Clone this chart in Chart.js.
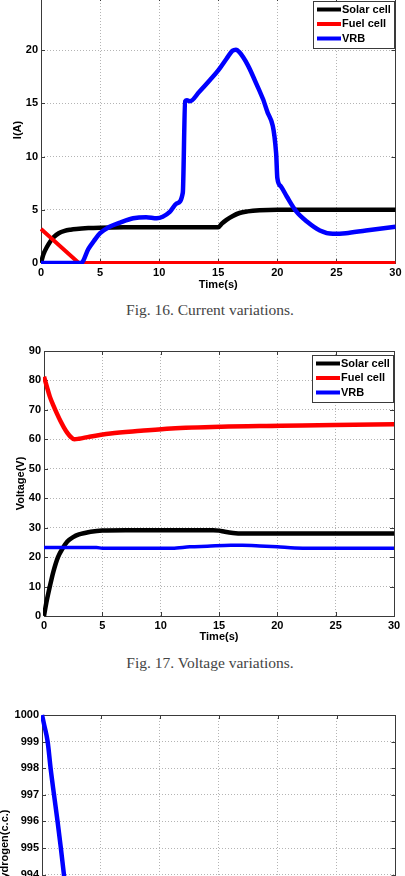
<!DOCTYPE html>
<html>
<head>
<meta charset="utf-8">
<script src="https://cdn.jsdelivr.net/npm/chart.js@4.4.0/dist/chart.umd.min.js"></script>
<style>
  html, body { margin: 0; padding: 0; background: #fff; }
  body { width: 405px; height: 876px; overflow: hidden; position: relative; }
  .graphe { position: absolute; left: 0; width: 405px; }
  .legende { position: absolute; left: 0; width: 420px; text-align: center; line-height: 18px;
             font-family: "Liberation Serif", "Times New Roman", serif; font-size: 15.5px; color: #444; }
</style>
</head>
<body>
<div class="graphe" style="top:-20px;height:315px"><canvas id="courantChart"></canvas></div>
<div class="legende" style="top:301px">Fig. 16. Current variations.</div>
<div class="graphe" style="top:320px;height:330px"><canvas id="tensionChart"></canvas></div>
<div class="legende" style="top:654px">Fig. 17. Voltage variations.</div>
<div class="graphe" style="top:690px;height:330px"><canvas id="hydrogeneChart"></canvas></div>

<script>
// Données
var nomsSeries = ['Solar cell', 'Fuel cell', 'VRB'];
var couleursSeries = ['#000000', '#ff0000', '#0000ff'];
var ticksTemps = [0, 5, 10, 15, 20, 25, 30];

// Fig. 16 : courants (A)
var tSolaireI = [0, 0.2, 0.5, 0.8, 1.1, 1.5, 2.0, 2.5, 3.0, 4.0, 5.0, 7.0, 10, 15.0, 15.3, 15.7, 16.2, 16.8, 17.5, 18.5, 20, 25, 30];
var iSolaire = [0, 0.8, 1.5, 2.05, 2.45, 2.8, 3.02, 3.13, 3.2, 3.28, 3.32, 3.35, 3.35, 3.35, 3.7, 4.05, 4.4, 4.7, 4.85, 4.95, 5.0, 5.0, 5.0];
var tPileI = [0, 3.2, 30];
var iPile = [3.2, 0, 0];
var tVrbI = [0, 3.4, 4.0, 4.5, 5.0, 5.8, 6.7, 7.8, 8.9, 9.8, 10.3, 10.9, 11.5, 12.0, 12.2, 12.35, 12.6, 13.4, 14.3, 15.0, 15.7, 16.2, 16.5, 16.8, 17.5, 18.2, 19.1, 19.9, 20.0, 20.3, 20.8, 21.6, 22.5, 23.6, 24.7, 25.8, 27.5, 30];
var iVrb = [0, 0, 1.3, 2.1, 2.8, 3.4, 3.8, 4.2, 4.3, 4.2, 4.35, 4.8, 5.6, 6.6, 15.2, 15.3, 15.2, 16.1, 17.2, 18.1, 19.2, 19.95, 20.05, 19.8, 18.6, 16.9, 14.4, 10.3, 8.0, 7.2, 6.25, 4.85, 3.9, 3.06, 2.75, 2.8, 3.06, 3.4];

// Fig. 17 : tensions (V)
var tSolaireV = [0, 0.2, 0.5, 0.8, 1.2, 1.6, 2.0, 2.5, 3.0, 3.5, 4.0, 5.0, 7.0, 10, 14.5, 15.0, 15.5, 16.2, 17.0, 18, 20, 25, 30];
var vSolaire = [0, 4.5, 10.0, 15.0, 20.0, 23.0, 25.3, 26.8, 27.7, 28.2, 28.6, 29.0, 29.1, 29.1, 29.1, 29.0, 28.6, 28.2, 28.0, 28.0, 28.0, 28.0, 28.0];
var tPileV = [0, 0.25, 0.5, 0.8, 1.1, 1.4, 1.7, 2.0, 2.3, 2.6, 3.0, 3.9, 5.7, 8.3, 10.9, 15.2, 20.3, 24.9, 30];
var vPile = [81.3, 77.8, 74.5, 71.5, 68.8, 66.3, 64.1, 62.2, 60.8, 60.0, 60.2, 60.9, 62.0, 62.9, 63.7, 64.3, 64.6, 64.9, 65.1];
var tVrbV = [0, 4.5, 5.0, 8, 11, 12.5, 14, 16, 17, 18.5, 20, 21.5, 23, 30];
var vVrb = [23.3, 23.3, 23.0, 23.0, 23.0, 23.5, 23.7, 24.0, 24.0, 23.8, 23.5, 23.1, 23.0, 23.0];

// Troisième figure : hydrogène (c.c.)
var tHydrogene = [0, 0.2, 0.48, 0.73, 1.02, 1.32, 1.6, 1.86, 2.1];
var hHydrogene = [1000, 999.6, 999, 998, 997, 996, 995, 994, 993];

Chart.defaults.font.family = '"Liberation Sans", Arial, sans-serif';
Chart.defaults.font.size = 11;
Chart.defaults.font.weight = 'bold';
Chart.defaults.color = '#000';
Chart.defaults.animation = false;

var couleurCadre = '#3a3a3a';

function points(ts, vs) {
    return ts.map(function(t, i) { return {x: t, y: vs[i]}; });
}

function serie(nom, couleur, ts, vs, epaisseur, ordre, lisse) {
    return {
        label: nom,
        data: points(ts, vs),
        borderColor: couleur,
        backgroundColor: couleur,
        borderWidth: epaisseur,
        pointRadius: 0,
        tension: lisse ? 0.4 : 0,
        cubicInterpolationMode: lisse ? 'monotone' : 'default',
        borderJoinStyle: 'round',
        clip: 1,
        order: ordre
    };
}

// Cadre et petites graduations vers l'intérieur (style MATLAB)
var pluginCadre = {
    id: 'cadre',
    beforeDatasetsDraw: function(chart) {
        var ctx = chart.ctx, z = chart.chartArea;
        var sx = chart.scales.x, sy = chart.scales.y;
        ctx.save();
        ctx.strokeStyle = couleurCadre;
        ctx.lineWidth = 1;
        ctx.strokeRect(Math.round(z.left) + 0.5, Math.round(z.top) + 0.5,
                       Math.round(z.right - z.left), Math.round(z.bottom - z.top));
        ctx.beginPath();
        sx.ticks.forEach(function(t) {
            var x = Math.round(sx.getPixelForValue(t.value)) + 0.5;
            ctx.moveTo(x, z.bottom); ctx.lineTo(x, z.bottom - 4);
            ctx.moveTo(x, z.top); ctx.lineTo(x, z.top + 4);
        });
        sy.ticks.forEach(function(t) {
            var y = Math.round(sy.getPixelForValue(t.value)) + 0.5;
            ctx.moveTo(z.left, y); ctx.lineTo(z.left + 4, y);
            ctx.moveTo(z.right, y); ctx.lineTo(z.right - 4, y);
        });
        ctx.stroke();
        ctx.restore();
    }
};

// Légende encadrée en haut à droite
var pluginLegende = {
    id: 'legendeBoite',
    afterDatasetsDraw: function(chart) {
        var ctx = chart.ctx, z = chart.chartArea;
        var largeur = 81, hauteur = 47;
        var gauche = Math.round(z.right - 1.5 - largeur), haut = Math.round(z.top + 4);
        ctx.save();
        ctx.fillStyle = '#fff';
        ctx.fillRect(gauche, haut, largeur, hauteur);
        ctx.strokeStyle = couleurCadre;
        ctx.lineWidth = 1;
        ctx.strokeRect(gauche + 0.5, haut + 0.5, largeur, hauteur);
        ctx.font = 'bold 11px "Liberation Sans", Arial, sans-serif';
        ctx.textBaseline = 'middle';
        chart.data.datasets.forEach(function(ds, i) {
            var y = haut + 8.5 + i * 14.5;
            ctx.strokeStyle = ds.borderColor;
            ctx.lineWidth = 4;
            ctx.beginPath();
            ctx.moveTo(gauche + 4, y);
            ctx.lineTo(gauche + 28, y);
            ctx.stroke();
            ctx.fillStyle = '#000';
            ctx.fillText(ds.label, gauche + 29, y);
        });
        ctx.restore();
    }
};

function optionsGraphe(p) {
    return {
        responsive: true,
        maintainAspectRatio: false,
        layout: { padding: { left: 0, right: p.droite, top: p.haut, bottom: 0 } },
        plugins: { legend: { display: false }, tooltip: { enabled: false } },
        scales: {
            x: {
                type: 'linear',
                min: 0,
                max: 30,
                afterBuildTicks: function(scale) {
                    scale.ticks = ticksTemps.map(function(v) { return {value: v}; });
                },
                ticks: { padding: 3.4, callback: function(v) { return String(v); } },
                grid: { color: '#b4b4b4', drawTicks: false },
                border: { display: false, dash: [1, 2] },
                title: { display: true, text: 'Time(s)', padding: { top: 0, bottom: p.titreX } },
                afterFit: function(scale) { scale.height = p.hauteurX; }
            },
            y: {
                min: p.min,
                max: p.max,
                ticks: { stepSize: p.pas, padding: 3, callback: function(v) { return String(v); } },
                grid: { color: '#b4b4b4', drawTicks: false },
                border: { display: false, dash: [1, 2] },
                title: { display: true, text: p.titre, padding: { top: p.titreY, bottom: 0 } },
                afterFit: function(scale) { scale.width = p.largeurY; }
            }
        }
    };
}

var courantChart = new Chart(document.getElementById('courantChart').getContext('2d'), {
    type: 'line',
    data: {
        datasets: [
            serie(nomsSeries[0], couleursSeries[0], tSolaireI, iSolaire, 4.5, 3, true),
            serie(nomsSeries[1], couleursSeries[1], tPileI, iPile, 4, 2, false),
            serie(nomsSeries[2], couleursSeries[2], tVrbI, iVrb, 4.5, 1, true)
        ]
    },
    options: optionsGraphe({ droite: 9, haut: 17, largeurY: 41, hauteurX: 32, titreX: 3.4,
                             min: 0, max: 25, pas: 5, titre: 'I(A)', titreY: 11 }),
    plugins: [pluginCadre, pluginLegende]
});

var tensionChart = new Chart(document.getElementById('tensionChart').getContext('2d'), {
    type: 'line',
    data: {
        datasets: [
            serie(nomsSeries[0], couleursSeries[0], tSolaireV, vSolaire, 4.5, 3, true),
            serie(nomsSeries[1], couleursSeries[1], tPileV, vPile, 4.5, 2, true),
            serie(nomsSeries[2], couleursSeries[2], tVrbV, vVrb, 3.5, 1, true)
        ]
    },
    options: optionsGraphe({ droite: 11, haut: 31, largeurY: 44, hauteurX: 34, titreX: 6.4,
                             min: 0, max: 90, pas: 10, titre: 'Voltage(V)', titreY: 14 }),
    plugins: [pluginCadre, pluginLegende]
});

var hydrogeneChart = new Chart(document.getElementById('hydrogeneChart').getContext('2d'), {
    type: 'line',
    data: {
        datasets: [
            serie('Hydrogen', couleursSeries[2], tHydrogene, hHydrogene, 4.5, 1, true)
        ]
    },
    options: optionsGraphe({ droite: 8, haut: 25, largeurY: 42, hauteurX: 39, titreX: 6,
                             min: 990, max: 1000, pas: 1, titre: 'Hydrogen(c.c.)', titreY: -2 }),
    plugins: [pluginCadre]
});
</script>
</body>
</html>
